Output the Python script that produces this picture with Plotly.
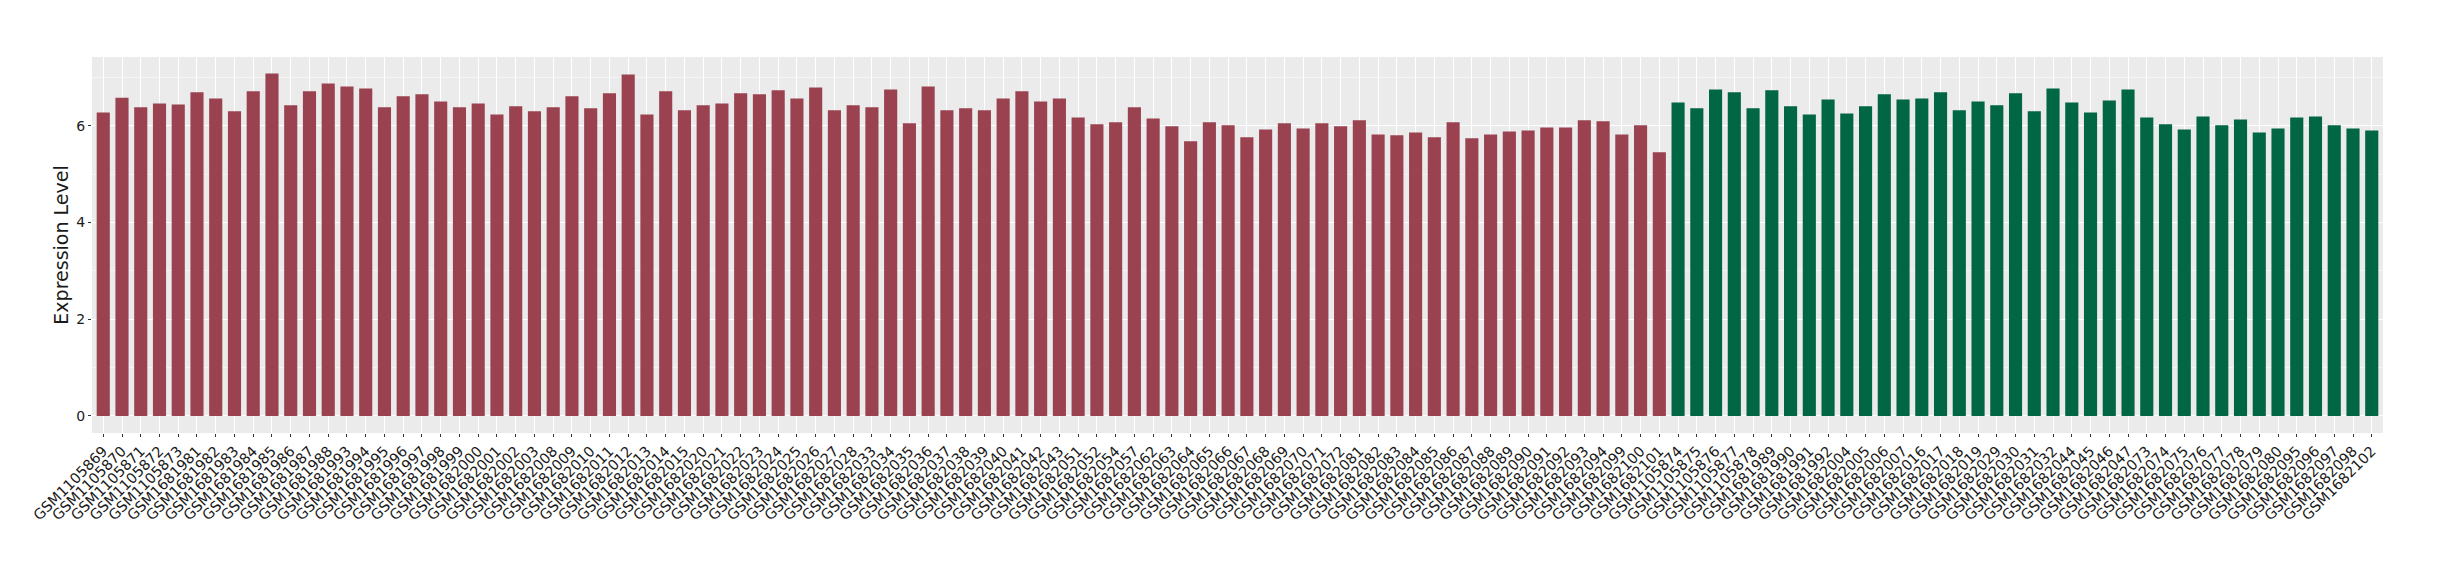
import plotly.graph_objects as go

# Group 1 (red) samples and expression values
group1_samples = [
    "GSM1105869", "GSM1105870", "GSM1105871", "GSM1105872", "GSM1105873",
    "GSM1681981", "GSM1681982", "GSM1681983", "GSM1681984", "GSM1681985",
    "GSM1681986", "GSM1681987", "GSM1681988", "GSM1681993", "GSM1681994",
    "GSM1681995", "GSM1681996", "GSM1681997", "GSM1681998", "GSM1681999",
    "GSM1682000", "GSM1682001", "GSM1682002", "GSM1682003", "GSM1682008",
    "GSM1682009", "GSM1682010", "GSM1682011", "GSM1682012", "GSM1682013",
    "GSM1682014", "GSM1682015", "GSM1682020", "GSM1682021", "GSM1682022",
    "GSM1682023", "GSM1682024", "GSM1682025", "GSM1682026", "GSM1682027",
    "GSM1682028", "GSM1682033", "GSM1682034", "GSM1682035", "GSM1682036",
    "GSM1682037", "GSM1682038", "GSM1682039", "GSM1682040", "GSM1682041",
    "GSM1682042", "GSM1682043", "GSM1682051", "GSM1682052", "GSM1682054",
    "GSM1682057", "GSM1682062", "GSM1682063", "GSM1682064", "GSM1682065",
    "GSM1682066", "GSM1682067", "GSM1682068", "GSM1682069", "GSM1682070",
    "GSM1682071", "GSM1682072", "GSM1682081", "GSM1682082", "GSM1682083",
    "GSM1682084", "GSM1682085", "GSM1682086", "GSM1682087", "GSM1682088",
    "GSM1682089", "GSM1682090", "GSM1682091", "GSM1682092", "GSM1682093",
    "GSM1682094", "GSM1682099", "GSM1682100", "GSM1682101",
]
group1_values = [
    6.27, 6.58, 6.38, 6.46, 6.44,
    6.69, 6.56, 6.30, 6.71, 7.08,
    6.42, 6.71, 6.87, 6.81, 6.77,
    6.38, 6.61, 6.65, 6.50, 6.38,
    6.46, 6.23, 6.40, 6.30, 6.38,
    6.61, 6.36, 6.67, 7.06, 6.23,
    6.71, 6.32, 6.42, 6.46, 6.67,
    6.65, 6.73, 6.56, 6.79, 6.32,
    6.42, 6.38, 6.75, 6.05, 6.81,
    6.32, 6.36, 6.32, 6.56, 6.71,
    6.50, 6.56, 6.17, 6.03, 6.07,
    6.38, 6.15, 5.99, 5.68, 6.07,
    6.01, 5.76, 5.92, 6.05, 5.94,
    6.05, 5.99, 6.11, 5.82, 5.80,
    5.86, 5.76, 6.07, 5.74, 5.82,
    5.88, 5.90, 5.96, 5.96, 6.11,
    6.09, 5.82, 6.01, 5.45,
]

# Group 2 (green) samples and expression values
group2_samples = [
    "GSM1105874", "GSM1105875", "GSM1105876", "GSM1105877", "GSM1105878",
    "GSM1681989", "GSM1681990", "GSM1681991", "GSM1681992", "GSM1682004",
    "GSM1682005", "GSM1682006", "GSM1682007", "GSM1682016", "GSM1682017",
    "GSM1682018", "GSM1682019", "GSM1682029", "GSM1682030", "GSM1682031",
    "GSM1682032", "GSM1682044", "GSM1682045", "GSM1682046", "GSM1682047",
    "GSM1682073", "GSM1682074", "GSM1682075", "GSM1682076", "GSM1682077",
    "GSM1682078", "GSM1682079", "GSM1682080", "GSM1682095", "GSM1682096",
    "GSM1682097", "GSM1682098", "GSM1682102",
]
group2_values = [
    6.48, 6.36, 6.75, 6.69, 6.36,
    6.73, 6.40, 6.23, 6.54, 6.25,
    6.40, 6.65, 6.54, 6.56, 6.69,
    6.32, 6.50, 6.42, 6.67, 6.30,
    6.77, 6.48, 6.27, 6.52, 6.75,
    6.17, 6.03, 5.92, 6.19, 6.01,
    6.13, 5.86, 5.94, 6.17, 6.19,
    6.01, 5.94, 5.90,
]

y_ticks = [0, 2, 4, 6]

RED = "#9A4250"
GREEN = "#006644"
FONT = "DejaVu Sans"

all_samples = group1_samples + group2_samples

fig = go.Figure()
fig.add_trace(go.Bar(x=group1_samples, y=group1_values, marker_color=RED,
                     marker_line_width=0, width=0.7, showlegend=False))
fig.add_trace(go.Bar(x=group2_samples, y=group2_values, marker_color=GREEN,
                     marker_line_width=0, width=0.7, showlegend=False))

fig.update_layout(
    width=2424, height=564,
    margin=dict(l=84, r=49, t=49, b=139),
    paper_bgcolor="white",
    plot_bgcolor="#EBEBEB",
    font=dict(family=FONT, color="#1a1a1a"),
    bargap=0.3,
    showlegend=False,
)
fig.update_xaxes(
    type="category",
    categoryorder="array", categoryarray=all_samples,
    tickmode="array", tickvals=all_samples, ticktext=all_samples,
    range=[-0.6, len(all_samples) - 1 + 0.6],
    tickangle=-45,
    tickfont=dict(size=14.5, color="#1a1a1a", family=FONT),
    showgrid=True, gridcolor="white", gridwidth=1.3,
    ticks="outside", ticklen=3, tickcolor="#333333", tickwidth=1,
    showline=False, zeroline=False, automargin=False,
)
fig.update_yaxes(
    range=[-0.354, 7.42],
    tickvals=y_ticks,
    tickfont=dict(size=14, color="#1a1a1a", family=FONT),
    showgrid=True, gridcolor="white", gridwidth=1.3,
    minor=dict(dtick=1, tick0=1, showgrid=True, gridcolor="#F5F5F5", gridwidth=0.7),
    ticks="outside", ticklen=3, tickcolor="#333333", tickwidth=1,
    zeroline=False, showline=False, automargin=False,
    title=dict(text="Expression Level", font=dict(size=19, family=FONT, color="#1a1a1a"), standoff=2),
)

fig.write_html("out.html")
